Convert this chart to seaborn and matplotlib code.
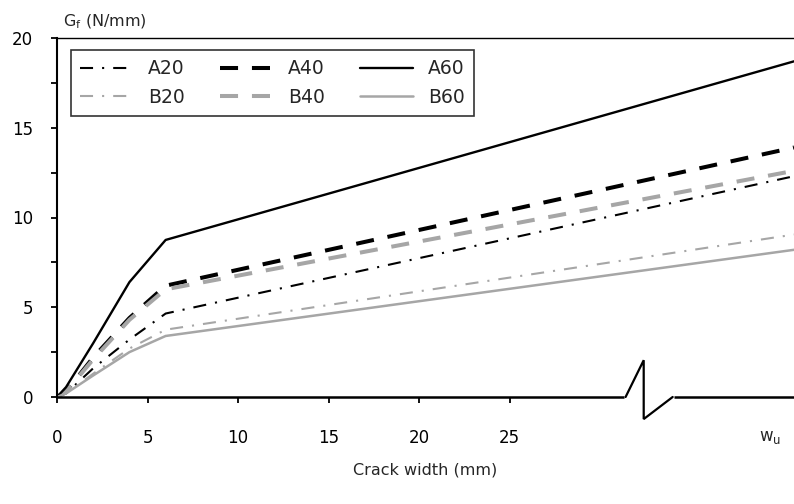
import matplotlib
matplotlib.use("Agg")
import matplotlib.pyplot as plt
import numpy as np
import pandas as pd
import seaborn as sns

# Fracture energy vs. crack width for six mixes
crack_width = [0.0, 0.5, 2.0, 4.0, 6.0, 40.7]
series_names = ["A20", "B20", "A40", "B40", "A60", "B60"]
gf_A20 = [0.0, 0.2, 1.6, 3.2, 4.65, 12.3]
gf_B20 = [0.0, 0.2, 1.3, 2.7, 3.75, 9.05]
gf_A40 = [0.0, 0.3, 2.2, 4.4, 6.2, 13.9]
gf_B40 = [0.0, 0.3, 2.1, 4.3, 6.0, 12.6]
gf_A60 = [0.0, 0.55, 3.0, 6.4, 8.75, 18.7]
gf_B60 = [0.0, 0.2, 1.2, 2.5, 3.4, 8.2]
x_ticks = [0, 5, 10, 15, 20, 25]
y_ticks = [0, 5, 10, 15, 20]

values = {"A20": gf_A20, "B20": gf_B20, "A40": gf_A40,
          "B40": gf_B40, "A60": gf_A60, "B60": gf_B60}
df = pd.DataFrame(
    [(s, w, g) for s in series_names for w, g in zip(crack_width, values[s])],
    columns=["series", "w", "Gf"],
)

sns.set_theme(style="white")
plt.rcParams["font.family"] = ["DejaVu Sans"]
plt.rcParams["lines.scale_dashes"] = False

BLACK = "#000000"
GREY = "#A6A6A6"
dashdot = (0, (9.4, 6.5, 1.5, 6.5))
dashed = (0, (13, 10))
styles = {
    "A20": dict(color=BLACK, lw=1.5, ls=dashdot),
    "B20": dict(color=GREY, lw=1.5, ls=dashdot),
    "A40": dict(color=BLACK, lw=2.9, ls=dashed),
    "B40": dict(color=GREY, lw=2.9, ls=dashed),
    "A60": dict(color=BLACK, lw=1.7, ls="-"),
    "B60": dict(color=GREY, lw=1.8, ls="-"),
}

fig = plt.figure(figsize=(7.94, 5.04), dpi=100)
ax = fig.add_axes([57 / 794, 1 - 397 / 504, 1 - 57 / 794, (397 - 38) / 504])

for name in series_names:
    st = styles[name]
    sub = df[df["series"] == name]
    sns.lineplot(data=sub, x="w", y="Gf", ax=ax, color=st["color"],
                 linewidth=st["lw"], linestyle=st["ls"], label=name,
                 dash_capstyle="butt")

ax.set_xlim(0, 40.7)
ax.set_ylim(0, 20)
ax.set_xticks(x_ticks)
ax.set_yticks(y_ticks)
ax.set_yticks(np.arange(2.5, 20, 5), minor=True)
ax.set_xlabel("")
ax.set_ylabel("")

for side in ["left", "bottom", "top"]:
    ax.spines[side].set_visible(True)
    ax.spines[side].set_color("black")
ax.spines["right"].set_visible(False)
ax.spines["left"].set_linewidth(1.5)
ax.spines["bottom"].set_linewidth(1.8)
ax.spines["top"].set_linewidth(1.0)

ax.tick_params(axis="both", which="both", direction="out", colors="black",
               labelsize=12, width=1.3)
ax.tick_params(axis="y", which="both", left=True, length=4.3, pad=13)
ax.tick_params(axis="x", which="both", bottom=True, length=4.3, pad=19)
ax.tick_params(axis="y", which="minor", length=4.3)

# axis-break glyph on the crack-width axis
brk_x = [31.4, 32.4, 32.4, 34.0]
brk_y = [0.0, 2.05, -1.23, 0.0]
ax.plot([31.3, 34.1], [0, 0], color="white", lw=3.5, clip_on=False,
        solid_capstyle="butt", zorder=5)
ax.plot(brk_x, brk_y, color="black", lw=1.6, clip_on=False, zorder=6,
        solid_joinstyle="miter")

ax.text(39.4, -2.25, "w$_\\mathrm{u}$", ha="center", va="center", fontsize=12)

fig.text(63 / 794, 1 - 22 / 504, "G$_\\mathrm{f}$ (N/mm)", ha="left",
         va="center", fontsize=11.5)
fig.text(425 / 794, 1 - 470 / 504, "Crack width (mm)", ha="center",
         va="center", fontsize=11.5)

leg = ax.legend(ncol=3, loc="upper left",
                bbox_to_anchor=(71 / 794, 1 - 50 / 504),
                bbox_transform=fig.transFigure, frameon=True, fancybox=False,
                fontsize=13.5, handlelength=2.8, handletextpad=0.8,
                columnspacing=1.9, labelspacing=0.5, borderpad=0.5,
                borderaxespad=0)
leg.get_frame().set_edgecolor("black")
leg.get_frame().set_linewidth(1.2)

fig.savefig("out.png", dpi=100, facecolor="white")
